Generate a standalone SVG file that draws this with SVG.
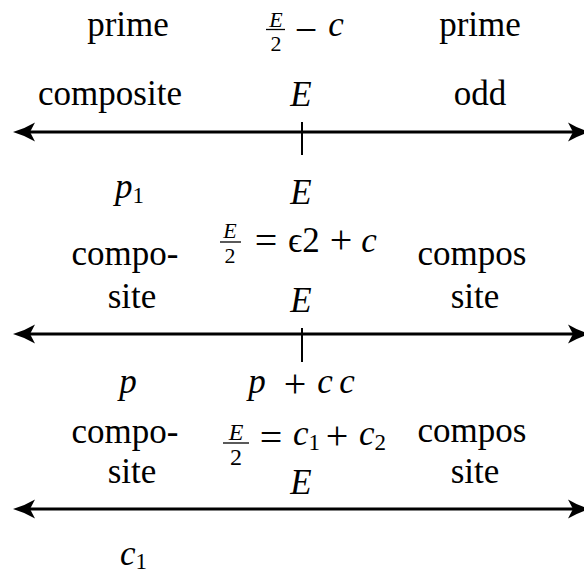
<svg xmlns="http://www.w3.org/2000/svg" width="584" height="573" viewBox="0 0 584 573">
<style>
text { font-family: "Liberation Serif", "DejaVu Serif", serif; font-size: 35px; fill: #000; }
.m { font-style: italic; }
.c { text-anchor: middle; }
.s { font-size: 22px; }
.s2 { font-size: 24px; }
.op { font-size: 40px; }
.sub { font-size: 23px; font-style: normal; }
.axis { stroke: #000; stroke-width: 3; fill: none; }
.tick { stroke: #000; stroke-width: 2; }
.bar { stroke: #000; stroke-width: 1.3; }
</style>
<defs>
<marker id="ah" markerUnits="userSpaceOnUse" markerWidth="22" markerHeight="20" viewBox="0 0 22 20" refX="15" refY="10" orient="auto-start-reverse">
<path d="M22,10 Q10,6.5 0,0.5 L5,10 L0,19.5 Q10,13.5 22,10 Z" fill="#000"/>
</marker>
</defs>
<rect width="584" height="573" fill="#fff"/>

<g id="connectors">
<line class="axis" x1="20" y1="132" x2="583" y2="132" marker-start="url(#ah)" marker-end="url(#ah)"/>
<line class="tick" x1="302" y1="122" x2="302" y2="155"/>
<line class="axis" x1="20" y1="334" x2="583" y2="334" marker-start="url(#ah)" marker-end="url(#ah)"/>
<line class="tick" x1="302" y1="328" x2="302" y2="362"/>
<line class="axis" x1="20" y1="509" x2="583" y2="509" marker-start="url(#ah)" marker-end="url(#ah)"/>
</g>

<g id="prime-left"><text class="c" x="128" y="36">prime</text></g>
<g id="frac-top">
<text class="m c s" x="276" y="27">E</text>
<line class="bar" x1="266" y1="29.5" x2="285" y2="29.5"/>
<text class="c s" x="276" y="51">2</text>
<text class="c op" x="306" y="43">−</text>
<text class="m c" x="336" y="36">c</text>
</g>
<g id="prime-right"><text class="c" x="480" y="36">prime</text></g>

<g id="composite"><text class="c" x="110" y="105">composite</text></g>
<g id="E1"><text class="m c" x="301" y="106">E</text></g>
<g id="odd"><text class="c" x="480" y="105">odd</text></g>

<g id="p1"><text class="m" x="115" y="198">p<tspan class="sub" dy="5">1</tspan></text></g>
<g id="E2"><text class="m c" x="301" y="204">E</text></g>

<g id="compo-1"><text class="c" x="125" y="265">compo-</text></g>
<g id="eq1">
<text class="m c s" x="230" y="238">E</text>
<line class="bar" x1="220" y1="242" x2="241" y2="242"/>
<text class="c s" x="230" y="263">2</text>
<text class="c op" x="266" y="254">=</text>
<text x="288" y="252">ϵ2</text>
<text class="c op" x="341" y="253">+</text>
<text class="m c" x="369" y="252">c</text>
</g>
<g id="compos-1"><text class="c" x="472" y="265">compos</text></g>

<g id="site-l1"><text class="c" x="132" y="308">site</text></g>
<g id="E3"><text class="m c" x="301" y="312">E</text></g>
<g id="site-r1"><text class="c" x="475" y="308">site</text></g>

<g id="p"><text class="m c" x="128" y="393">p</text></g>
<g id="pcc">
<text class="m c" x="257" y="393">p</text>
<text class="c op" x="295" y="397">+</text>
<text class="m c" x="325" y="393">c</text>
<text class="m c" x="347" y="393">c</text>
</g>

<g id="compo-2"><text class="c" x="125" y="443">compo-</text></g>
<g id="eq2">
<text class="m c s2" x="236" y="440">E</text>
<line class="bar" x1="223" y1="443" x2="249" y2="443"/>
<text class="c s2" x="236" y="465">2</text>
<text class="c op" x="271" y="451">=</text>
<text class="m" x="293" y="445">c<tspan class="sub" dy="5">1</tspan></text>
<text class="c op" x="337" y="449">+</text>
<text class="m" x="359" y="445">c<tspan class="sub" dy="5">2</tspan></text>
</g>
<g id="compos-2"><text class="c" x="472" y="442">compos</text></g>

<g id="site-l2"><text class="c" x="132" y="483">site</text></g>
<g id="E4"><text class="m c" x="301" y="494">E</text></g>
<g id="site-r2"><text class="c" x="475" y="483">site</text></g>

<g id="c1"><text class="m" x="120" y="565">c<tspan class="sub" dy="4">1</tspan></text></g>
</svg>
